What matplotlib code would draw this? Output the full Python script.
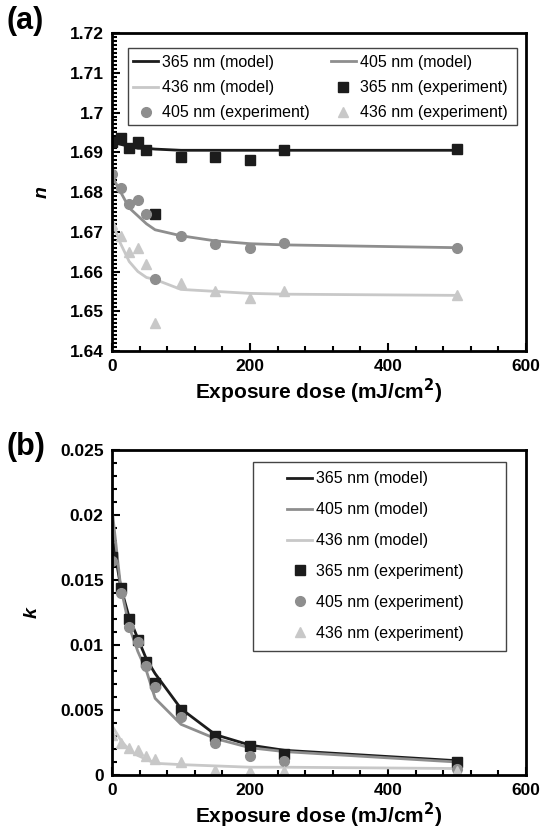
import matplotlib
matplotlib.use('Agg')
import matplotlib.pyplot as plt
from matplotlib.patches import Rectangle
from matplotlib.ticker import MultipleLocator, FuncFormatter

plt.rcParams['font.family'] = ['Liberation Sans', 'DejaVu Sans']

# exposure doses (mJ/cm2)
dose = [0, 12.5, 25, 37.5, 50, 62.5, 100, 150, 200, 250, 500]

# (a) refractive index n
n_365_model = [1.6925, 1.692, 1.6915, 1.691, 1.691, 1.6908, 1.6905, 1.6905, 1.6905, 1.6905, 1.6905]
n_405_model = [1.684, 1.680, 1.676, 1.674, 1.672, 1.6705, 1.669, 1.6677, 1.667, 1.6667, 1.666]
n_436_model = [1.6725, 1.667, 1.6625, 1.660, 1.6585, 1.658, 1.6555, 1.655, 1.6545, 1.6543, 1.654]
n_365_exp = [1.6925, 1.6935, 1.691, 1.6925, 1.6905, 1.6745, 1.6887, 1.6887, 1.6881, 1.6905, 1.6907]
n_405_exp = [1.6845, 1.681, 1.677, 1.678, 1.6745, 1.658, 1.669, 1.667, 1.6658, 1.6673, 1.666]
n_436_exp = [1.672, 1.669, 1.665, 1.666, 1.662, 1.647, 1.657, 1.655, 1.6533, 1.6552, 1.654]

# (b) extinction coefficient k
k_365_model = [0.0185, 0.0145, 0.0121, 0.0105, 0.0089, 0.0078, 0.0051, 0.0031, 0.0023, 0.0019, 0.0011]
k_405_model = [0.0205, 0.0145, 0.0114, 0.0095, 0.0080, 0.0059, 0.0039, 0.0028, 0.0021, 0.0018, 0.0010]
k_436_model = [0.0038, 0.0027, 0.0019, 0.0015, 0.0012, 0.0009, 0.0008, 0.0007, 0.0006, 0.0006, 0.0005]
k_365_exp = [0.0168, 0.0144, 0.0120, 0.0104, 0.0087, 0.0071, 0.0050, 0.0030, 0.0022, 0.0016, 0.0010]
k_405_exp = [0.0165, 0.0140, 0.0114, 0.0102, 0.0084, 0.0068, 0.0045, 0.0025, 0.0015, 0.0011, 0.0005]
k_436_exp = [0.0031, 0.0025, 0.0021, 0.0019, 0.0015, 0.0012, 0.0010, 0.0004, 0.0003, 0.0003, 0.0003]

c365, c405, c436 = '#1c1c1c', '#8e8e8e', '#c8c8c8'


def fmt(v, pos):
    return ('%.3f' % v).rstrip('0').rstrip('.')


def style(ax, ymin, ymax, ymaj, ymin_step, ylab):
    ax.set_xlim(0, 600)
    ax.set_ylim(ymin, ymax)
    ax.xaxis.set_major_locator(MultipleLocator(200))
    ax.xaxis.set_minor_locator(MultipleLocator(40))
    ax.yaxis.set_major_locator(MultipleLocator(ymaj))
    ax.yaxis.set_minor_locator(MultipleLocator(ymin_step))
    ax.yaxis.set_major_formatter(FuncFormatter(fmt))
    ax.tick_params(which='both', direction='in', top=False, right=False, width=1.5)
    ax.tick_params(which='major', length=6, labelsize=12.5, pad=6)
    ax.tick_params(which='minor', length=3.5)
    for lab in ax.get_xticklabels() + ax.get_yticklabels():
        lab.set_fontweight('bold')
    for sp in ax.spines.values():
        sp.set_linewidth(2)
    ax.set_xlabel('Exposure dose (mJ/cm$\\mathbf{^2}$)', fontsize=15, fontweight='bold', labelpad=2)
    ax.set_ylabel(ylab, fontsize=14, fontweight='bold', style='italic', labelpad=14)


def frame(ax, x0, y0, x1, y1):
    ax.add_patch(Rectangle((x0, y0), x1 - x0, y1 - y0, transform=ax.transAxes,
                           fill=False, edgecolor='#444444', lw=1, zorder=5))


fig = plt.figure(figsize=(5.41, 8.32), dpi=100)
ax1 = fig.add_axes([0.207, 0.5781, 0.7652, 0.3822])
ax2 = fig.add_axes([0.207, 0.0685, 0.7652, 0.3906])

legkw = dict(fontsize=11.5, frameon=False, handlelength=1.57, handletextpad=0.25,
             borderpad=0, borderaxespad=0, loc='upper left')

# panel (a)
l1, = ax1.plot(dose, n_365_model, color=c365, lw=2, label='365 nm (model)')
l2, = ax1.plot(dose, n_405_model, color=c405, lw=2, label='405 nm (model)')
l3, = ax1.plot(dose, n_436_model, color=c436, lw=2, label='436 nm (model)')
m1, = ax1.plot(dose, n_365_exp, 's', color=c365, ms=7, label='365 nm (experiment)')
m2, = ax1.plot(dose, n_405_exp, 'o', color=c405, ms=7, label='405 nm (experiment)')
m3, = ax1.plot(dose, n_436_exp, '^', color=c436, ms=7, label='436 nm (experiment)')
style(ax1, 1.64, 1.72, 0.01, 0.001, 'n')
order = [l1, l3, m2, l2, m1, m3]
ax1.legend(order, [h.get_label() for h in order], ncol=2, bbox_to_anchor=(0.0507, 0.931),
           labelspacing=0.64, columnspacing=1.3, **legkw)
frame(ax1, 0.0386, 0.711, 0.978, 0.953)

# panel (b)
ax2.plot(dose, k_365_model, color=c365, lw=2, label='365 nm (model)')
ax2.plot(dose, k_405_model, color=c405, lw=2, label='405 nm (model)')
ax2.plot(dose, k_436_model, color=c436, lw=2, label='436 nm (model)')
ax2.plot(dose, k_365_exp, 's', color=c365, ms=7, label='365 nm (experiment)')
ax2.plot(dose, k_405_exp, 'o', color=c405, ms=7, label='405 nm (experiment)')
ax2.plot(dose, k_436_exp, '^', color=c436, ms=7, label='436 nm (experiment)')
style(ax2, 0, 0.025, 0.005, 0.001, 'k')
ax2.legend(bbox_to_anchor=(0.4227, 0.935), labelspacing=1.0, **legkw)
frame(ax2, 0.3406, 0.3815, 0.9517, 0.963)

fig.text(0.012, 0.975, '(a)', fontsize=22, fontweight='bold', va='center', ha='left')
fig.text(0.012, 0.463, '(b)', fontsize=22, fontweight='bold', va='center', ha='left')

fig.savefig('out.png', dpi=100)
